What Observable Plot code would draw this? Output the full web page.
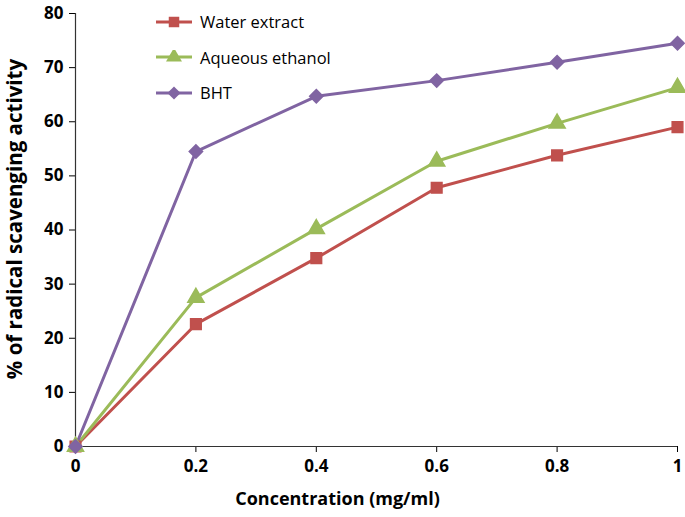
<!DOCTYPE html>
<html>
<head>
<meta charset="utf-8">
<script src="https://cdn.jsdelivr.net/npm/d3@7"></script>
<script src="https://cdn.jsdelivr.net/npm/@observablehq/plot@0.6"></script>
<style>
  body { margin: 0; background: #fff; }
  #wrap { position: relative; width: 685px; height: 517px; font-family: "Open Sans", sans-serif; }
  #legend { position: absolute; left: 154px; top: 4px; font-size: 16.5px; color: #000; }
  .item { display: flex; align-items: center; height: 35.5px; }
  .item svg { margin-right: 6px; }
</style>
</head>
<body>
<div id="wrap"><div id="legend"></div></div>
<script>
const concentration = [0, 0.2, 0.4, 0.6, 0.8, 1];
const waterExtract = [0, 22.6, 34.8, 47.8, 53.8, 59.0];
const aqueousEthanol = [0, 27.5, 40.2, 52.7, 59.7, 66.3];
const bht = [0, 54.5, 64.7, 67.6, 71.0, 74.5];
const seriesNames = ["Water extract", "Aqueous ethanol", "BHT"];
const seriesColors = ["#C0504D", "#9BBB59", "#8064A2"];
const seriesSymbols = ["square", "triangle", "diamond2"];
const xTicks = [0, 0.2, 0.4, 0.6, 0.8, 1];
const yTicks = [0, 10, 20, 30, 40, 50, 60, 70, 80];

const allValues = [waterExtract, aqueousEthanol, bht];
const data = [];
allValues.forEach((vals, si) => {
  vals.forEach((v, i) => data.push({series: seriesNames[si], x: concentration[i], y: v}));
});

const chart = Plot.plot({
  width: 685,
  height: 517,
  marginLeft: 75,
  marginRight: 8,
  marginTop: 13,
  marginBottom: 71,
  style: {fontFamily: "Open Sans, sans-serif", fontSize: "17px", fontWeight: "bold", color: "#000"},
  x: {domain: [0, 1]},
  y: {domain: [0, 80]},
  color: {domain: seriesNames, range: seriesColors},
  symbol: {domain: seriesNames, range: seriesSymbols},
  marks: [
    Plot.axisX({ticks: xTicks, tickFormat: d3.format("~g"), tickSize: 6, tickPadding: 7, label: null, stroke: "#000", fontSize: 17, fontWeight: "bold"}),
    Plot.axisY({ticks: yTicks, tickSize: 6, tickPadding: 6, label: null, stroke: "#000", fontSize: 17, fontWeight: "bold"}),
    Plot.ruleY([0], {stroke: "#333", strokeWidth: 1.2}),
    Plot.ruleX([0], {stroke: "#333", strokeWidth: 1.2}),
    Plot.line(data, {x: "x", y: "y", z: "series", stroke: "series", strokeWidth: 3}),
    Plot.dot(data, {x: "x", y: "y", fill: "series", stroke: "series", symbol: "series", r: 6}),
    Plot.text(["Concentration (mg/ml)"], {frameAnchor: "bottom", dy: 58, dx: -39, fontSize: 18, fontWeight: "bold"}),
    Plot.text(["% of radical scavenging activity"], {frameAnchor: "left", textAnchor: "middle", dx: -60, dy: -11, rotate: -90, fontSize: 20.5, fontWeight: "bold"})
  ]
});
document.getElementById("wrap").prepend(chart);
chart.style.position = "absolute";
chart.style.left = "0";
chart.style.top = "0";

const legend = document.getElementById("legend");
legend.style.zIndex = 2;
seriesNames.forEach((name, i) => {
  const item = document.createElement("div");
  item.className = "item";
  const sym = d3.symbol(seriesSymbols[i] === "square" ? d3.symbolSquare : seriesSymbols[i] === "triangle" ? d3.symbolTriangle : d3.symbolDiamond2, 110)();
  item.innerHTML = `<svg width="40" height="14"><line x1="2" x2="38" y1="7" y2="7" stroke="${seriesColors[i]}" stroke-width="3"/><path d="${sym}" transform="translate(20,7)" fill="${seriesColors[i]}"/></svg><span>${name}</span>`;
  legend.appendChild(item);
});
</script>
</body>
</html>
